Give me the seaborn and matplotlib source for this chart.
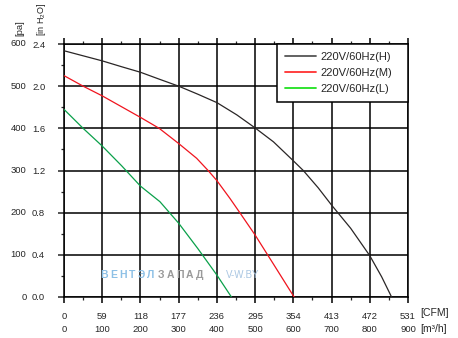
import numpy as np
import pandas as pd
import matplotlib
matplotlib.use("Agg")
import matplotlib.pyplot as plt
import matplotlib.transforms as mtransforms
from matplotlib.lines import Line2D
from matplotlib.ticker import MultipleLocator
import seaborn as sns

# ---- data (flow in m3/h, pressure in Pa) ----
flow_H = [0, 50, 100, 151, 200, 251, 300, 350, 400, 452, 500, 548, 600, 626, 665,
          700, 750, 800, 831, 857]
pa_H = [584, 572, 560, 546, 533, 516, 500, 481, 461, 432, 401, 368, 323, 300, 259,
        218, 163, 98, 48, 0]
flow_M = [0, 50, 100, 151, 200, 249, 300, 347, 377, 400, 434, 460, 500, 548, 602]
pa_M = [525, 500, 477, 451, 426, 400, 364, 329, 300, 276, 234, 200, 147, 78, 0]
flow_L = [0, 50, 100, 151, 200, 251, 300, 350, 400, 438]
pa_L = [445, 400, 358, 311, 263, 226, 175, 115, 52, 0]
series_names = ["220V/60Hz(H)", "220V/60Hz(M)", "220V/60Hz(L)"]

m3h_ticks = [0, 100, 200, 300, 400, 500, 600, 700, 800, 900]
cfm_labels = ["0", "59", "118", "177", "236", "295", "354", "413", "472", "531"]
pa_ticks = [0, 100, 200, 300, 400, 500, 600]
inh2o_labels = ["0.0", "0.4", "0.8", "1.2", "1.6", "2.0", "2.4"]

sns.set_style("ticks")
plt.rcParams["font.family"] = ["Liberation Sans", "DejaVu Sans"]
plt.rcParams["mathtext.fontset"] = "custom"
plt.rcParams["mathtext.rm"] = "Liberation Sans"
plt.rcParams["mathtext.default"] = "regular"

df = pd.concat([
    pd.DataFrame({"flow": flow_H, "pa": pa_H, "speed": series_names[0]}),
    pd.DataFrame({"flow": flow_M, "pa": pa_M, "speed": series_names[1]}),
    pd.DataFrame({"flow": flow_L, "pa": pa_L, "speed": series_names[2]}),
])
line_colors = {series_names[0]: "#2a2626", series_names[1]: "#f0141e", series_names[2]: "#0aa04a"}

W, H = 458, 338
fig = plt.figure(figsize=(W / 100, H / 100), dpi=100)
x0, x1, y0, y1 = 64, 408, 297, 44
ax = fig.add_axes([x0 / W, 1 - y0 / H, (x1 - x0) / W, (y0 - y1) / H])

sns.lineplot(data=df, x="flow", y="pa", hue="speed", palette=line_colors,
             sort=False, estimator=None, linewidth=0.9, legend=False, ax=ax, zorder=3)

ax.set_xlim(0, 900)
ax.set_ylim(0, 600)
ax.set_xlabel("")
ax.set_ylabel("")

ax.grid(True, color="black", linewidth=1.1)
for s in ax.spines.values():
    s.set_visible(True)
    s.set_color("black")
    s.set_linewidth(1.1)

NUM = 6.8
ax.set_xticks(m3h_ticks)
ax.set_xticklabels(cfm_labels)
ax.set_yticks(pa_ticks)
ax.set_yticklabels(inh2o_labels)
ax.xaxis.set_minor_locator(MultipleLocator(50))
ax.yaxis.set_minor_locator(MultipleLocator(50))
ax.tick_params(axis="x", which="major", direction="out", length=4, width=1.1,
               labelsize=NUM, pad=7, top=True, color="black")
ax.tick_params(axis="x", which="minor", direction="out", length=2.5, width=0.9, top=True)
ax.tick_params(axis="y", which="major", direction="out", length=4, width=1.1,
               labelsize=NUM, pad=9.5, right=False)
ax.tick_params(axis="y", which="minor", direction="out", length=2.5, width=0.9, right=False)

# second y label column (Pa)
ty = mtransforms.blended_transform_factory(fig.transFigure, ax.transData)
for v in pa_ticks:
    ax.text(26.5 / W, v, str(v), transform=ty, ha="right", va="center", fontsize=NUM)
# second x label row (m3/h)
tx = mtransforms.blended_transform_factory(ax.transData, fig.transFigure)
for v in m3h_ticks:
    ax.text(v, 1 - 329.5 / H, str(v), transform=tx, ha="center", va="center", fontsize=NUM)

# unit labels
fig.text(20 / W, 1 - 36 / H, "[pa]", rotation=90, ha="center", va="bottom", fontsize=6.8)
fig.text(41.5 / W, 1 - 36 / H, "[in H$_2$O]", rotation=90, ha="center", va="bottom", fontsize=6.5)
fig.text(420 / W, 1 - 313.5 / H, "[CFM]", ha="left", va="center", fontsize=7.5)
fig.text(420 / W, 1 - 329.5 / H, "[m³/h]", ha="left", va="center", fontsize=7.5)

# watermark
for i, ch in enumerate("ВЕНТЭЛ"):
    fig.text((104 + i * 9.3) / W, 1 - 275 / H, ch, ha="center", va="center",
             fontsize=7.5, fontweight="bold", color="#8cc0e6")
for i, ch in enumerate("ЗАПАД"):
    fig.text((161 + i * 9.6) / W, 1 - 275 / H, ch, ha="center", va="center",
             fontsize=7.5, fontweight="bold", color="#9a9a9a")
fig.text(226 / W, 1 - 275 / H, "V-W.BY", ha="left", va="center", fontsize=7, color="#a9c6e2")

# legend
handles = [Line2D([], [], color="#555555", lw=1.3),
           Line2D([], [], color="#ff3030", lw=1.3),
           Line2D([], [], color="#20e020", lw=1.3)]
lx = (277 - x0) / (x1 - x0)
leg = ax.legend(handles, series_names, loc="upper right",
                bbox_to_anchor=(lx, 0, 1 - lx, 1.0), mode="expand", borderaxespad=0,
                fancybox=False, framealpha=1, edgecolor="black", fontsize=8,
                handlelength=2.8, handletextpad=0.4, labelspacing=0.55,
                borderpad=0.7)
leg.get_frame().set_linewidth(1.1)
leg.set_zorder(5)

fig.savefig("out.png", dpi=100)
